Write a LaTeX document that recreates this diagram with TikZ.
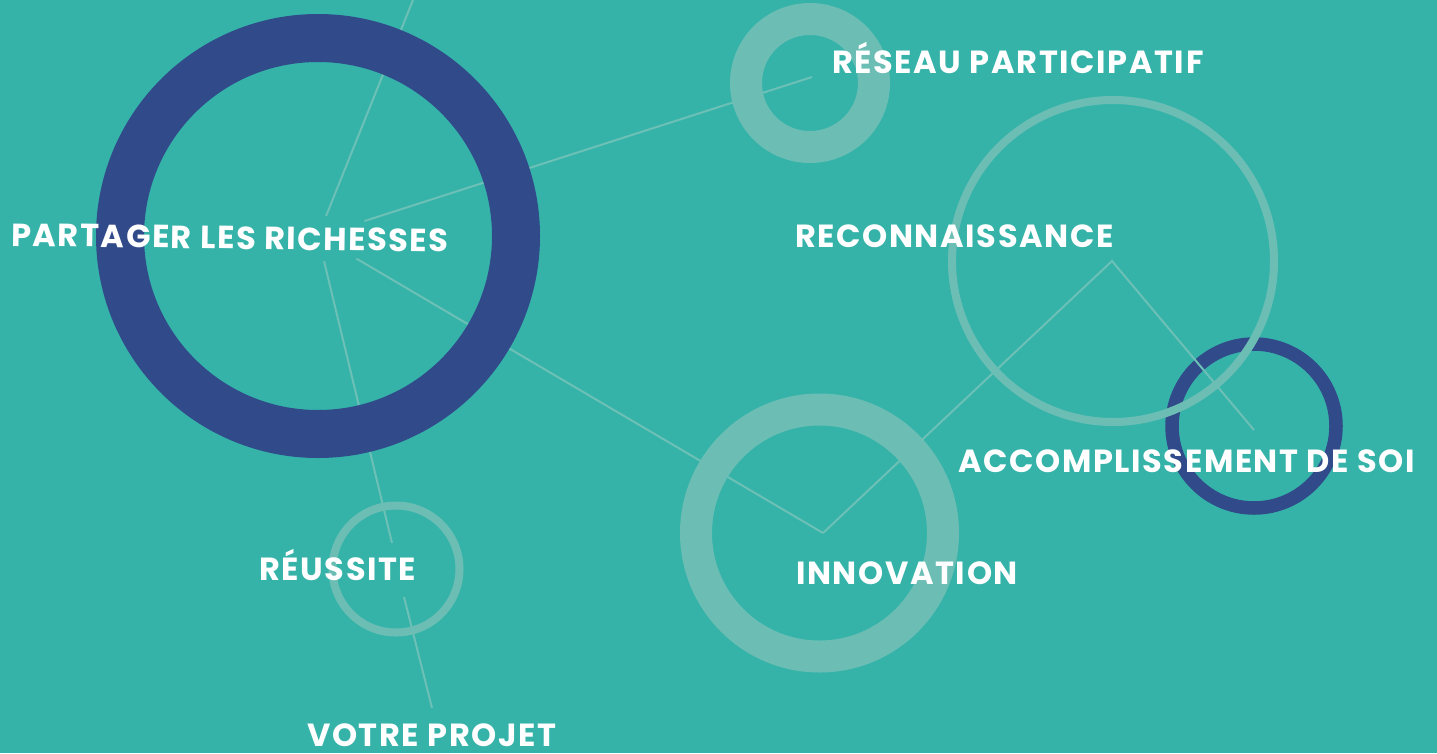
\documentclass[tikz,border=0pt]{standalone}
\usepackage{fontspec}
\setmainfont{Poppins}[LetterSpace=5]
\definecolor{bgteal}{HTML}{35B3A9}
\definecolor{darkring}{HTML}{314A8A}
\definecolor{lightring}{HTML}{6CBEB4}
\definecolor{linkcol}{HTML}{6CC0B6}
\tikzset{
  link/.style={draw=linkcol, line width=2pt},
  bigdark/.style={draw=darkring, line width=48pt},
  smalldark/.style={draw=darkring, line width=13.5pt},
  lightthick/.style={draw=lightring, line width=32pt},
  lightthin/.style={draw=lightring, line width=8pt},
  lbl/.style={text=white, font=\bfseries\fontsize{32}{32}\selectfont, inner sep=0pt, anchor=base west},
}
\begin{document}
\begin{tikzpicture}[x=1pt,y=-1pt]
\useasboundingbox (0,0) rectangle (1437,753);
\fill[bgteal] (0,0) rectangle (1437,753);
\clip (0,0) rectangle (1437,753);
% centres
\coordinate (cPart) at (318,236);
\coordinate (cRes) at (810,83);
\coordinate (cRec) at (1113,261);
\coordinate (cAcc) at (1254,426);
\coordinate (cInn) at (819.5,533);
\coordinate (cReu) at (396,569);
% connector ends
\coordinate (topEnd) at (413,0);
\coordinate (resEnd) at (812,77);
\coordinate (reuA) at (392,543);
\coordinate (reuB) at (404,597);
\coordinate (vpEnd) at (432,708);
\coordinate (vInn) at (823,533);
\coordinate (vRec) at (1112,261);
\coordinate (vAcc) at (1254,430);
% dark small ring (under the links)
\draw[smalldark] (cAcc) circle (82);
% links
\draw[link, shorten <=21.5pt] (cPart) -- (topEnd);
\draw[link, shorten <=48.7pt] (cPart) -- (resEnd);
\draw[link, shorten <=26pt] (cPart) -- (reuA);
\draw[link] (reuB) -- (vpEnd);
\draw[link, shorten <=44.6pt] (cPart) -- (vInn);
\draw[link] (vInn) -- (vRec) -- (vAcc);
% rings
\draw[bigdark] (cPart) circle (198);
\draw[lightthick] (cRes) circle (64);
\draw[lightthin] (cRec) circle (161);
\draw[lightthick] (cInn) circle (123.5);
\draw[lightthin] (cReu) circle (63.5);
% labels
\node[lbl, rotate=-0.8] (tPart) at (11,246) {PARTAGER LES RICHESSES};
\node[lbl] (tRes) at (832,73) {RÉSEAU PARTICIPATIF};
\node[lbl] (tRec) at (795,247) {RECONNAISSANCE};
\node[lbl] (tAcc) at (958,472) {ACCOMPLISSEMENT DE SOI};
\node[lbl] (tInn) at (796,584) {INNOVATION};
\node[lbl] (tReu) at (259,580) {RÉUSSITE};
\node[lbl, text depth=0pt] (tVp) at (307,746) {VOTRE PROJET};
\end{tikzpicture}
\end{document}
